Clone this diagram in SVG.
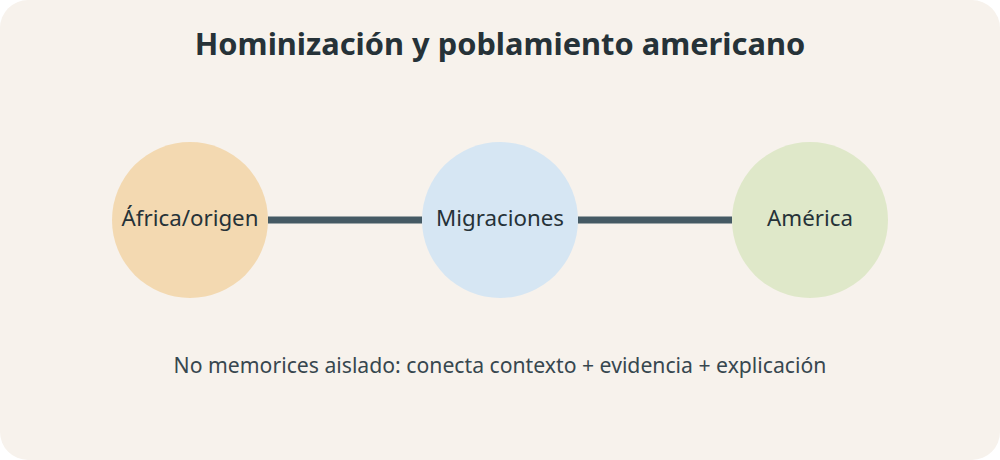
<svg xmlns="http://www.w3.org/2000/svg" width="1000" height="460" viewBox="0 0 1000 460">
<style>
.title{font-family:"Noto Sans","Open Sans",sans-serif;font-size:30.8px;font-weight:700;fill:#263238;text-anchor:middle}
.label{font-family:"Noto Sans","Open Sans",sans-serif;font-size:22.3px;fill:#263238;text-anchor:middle}
.note{font-family:"Noto Sans","Open Sans",sans-serif;font-size:21.2px;fill:#37474f;text-anchor:middle}
.edge{stroke:#455a64;stroke-width:7;fill:none}
</style>
<rect x="0" y="0" width="1000" height="460" fill="#ffffff"/>
<rect x="0" y="0" width="1000" height="460" rx="28" ry="28" fill="#f7f2ec"/>
<text class="title" x="500" y="55">Hominización y poblamiento americano</text>
<g id="connectors">
<line class="edge" x1="268" y1="220" x2="422" y2="220"/>
<line class="edge" x1="578" y1="220" x2="732" y2="220"/>
</g>
<g id="node-africa">
<circle cx="190" cy="220" r="78" fill="#f3d9b1"/>
<text class="label" x="190" y="226">África/origen</text>
</g>
<g id="node-migraciones">
<circle cx="500" cy="220" r="78" fill="#d6e6f3"/>
<text class="label" x="500" y="226">Migraciones</text>
</g>
<g id="node-america">
<circle cx="810" cy="220" r="78" fill="#dfe8c9"/>
<text class="label" x="810" y="226">América</text>
</g>
<text class="note" x="500" y="373">No memorices aislado: conecta contexto + evidencia + explicación</text>
</svg>
